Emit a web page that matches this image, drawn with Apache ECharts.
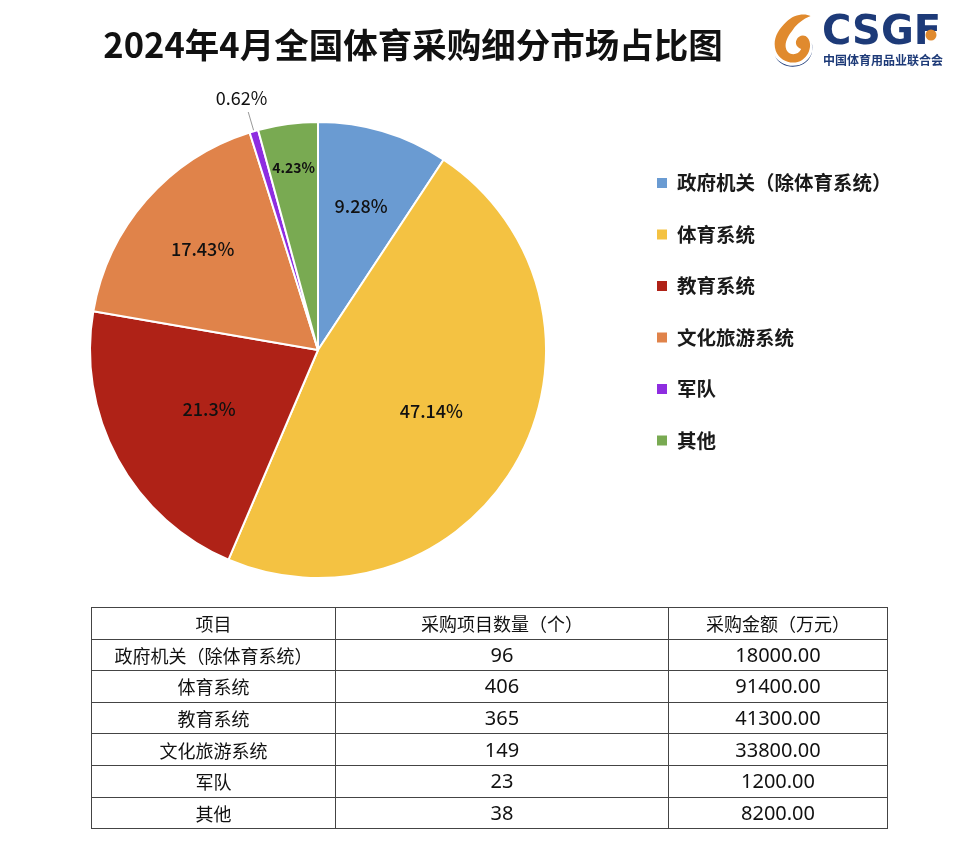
<!DOCTYPE html>
<html>
<head>
<meta charset="utf-8">
<script src="https://cdn.jsdelivr.net/npm/echarts@6/dist/echarts.min.js"></script>
<style>
  html, body { margin: 0; padding: 0; background: #fff; }
  #wrap { position: relative; width: 975px; height: 853px; }
  #chart { position: absolute; left: 0; top: 0; width: 975px; height: 853px; }
  #tbl { position: absolute; left: 91px; top: 607px; width: 796px; border-collapse: collapse; table-layout: fixed;
         font-family: "Noto Sans CJK SC", "Noto Sans", sans-serif; font-size: 18px; color: #111; }
  #tbl td { border: 1px solid #444; text-align: center; font-weight: 400; padding: 0; height: 30.6px; line-height: 30px; white-space: nowrap; overflow: hidden; }
  #tbl td.num { font-family: "Noto Sans", "Open Sans", sans-serif; font-size: 20px; }
</style>
</head>
<body>
<div id="wrap">
  <div id="chart"></div>
  <table id="tbl"></table>
</div>
<script>
// ---- data ----
const titleText = '2024年4月全国体育采购细分市场占比图';
const categories = ['政府机关（除体育系统）', '体育系统', '教育系统', '文化旅游系统', '军队', '其他'];
const projectCounts = [96, 406, 365, 149, 23, 38];
const amounts = [18000, 91400, 41300, 33800, 1200, 8200];
const percentLabels = ['9.28%', '47.14%', '21.3%', '17.43%', '0.62%', '4.23%'];
const tableHeader = ['项目', '采购项目数量（个）', '采购金额（万元）'];
const colors = ['#6A9BD2', '#F4C242', '#AF2217', '#E0834A', '#8E2DE0', '#79AA52'];

// ---- table ----
const tbl = document.getElementById('tbl');
let html = '<colgroup><col style="width:244px"><col style="width:333px"><col style="width:219px"></colgroup>';
html += '<tr>' + tableHeader.map(h => '<td>' + h + '</td>').join('') + '</tr>';
categories.forEach((c, i) => {
  html += '<tr><td>' + c + '</td><td class="num">' + projectCounts[i] + '</td><td class="num">' + amounts[i].toFixed(2) + '</td></tr>';
});
tbl.innerHTML = html;

// ---- logo swirl (decorative image) ----
const swirlSvg = '<svg xmlns="http://www.w3.org/2000/svg" width="50" height="56" viewBox="0 0 50 56">' +
  '<path d="M14 10 C22 2 34 1 40 4 C32 7 25 12 21 18 C15 25 11 33 15 39 C19 44 27 43 30 37 C26 36 23 32 25 28 C27 23 34 22 37 26 C42 32 39 43 31 48 C21 54 7 49 3 39 C-1 28 5 18 14 10 Z" fill="#E08A2E"/>' +
  '<path d="M2 44 C8 54 24 57 34 50 C41 45 44 37 41 31 C44 39 40 49 30 53 C20 57 7 54 2 44 Z" fill="#1D3A78"/>' +
  '</svg>';
const swirlUrl = 'data:image/svg+xml;charset=utf-8,' + encodeURIComponent(swirlSvg);

// ---- chart ----
const chart = echarts.init(document.getElementById('chart'), null, { renderer: 'canvas' });
const CX = 318, CY = 350, R = 228;
const labelScale = [1.28, 1.10, 1.06, 1.31, 1, 1.57];
const font = '"Noto Sans CJK SC", "Noto Sans", sans-serif';

const pieData = categories.map((c, i) => {
  const d = { name: c, value: amounts[i], itemStyle: { color: colors[i] } };
  if (i === 4) {
    d.label = { position: 'outside', fontWeight: 400, fontSize: 18, color: '#111' };
    d.labelLine = { show: true, length: 20, length2: 0, lineStyle: { color: '#999', width: 1 } };
  }
  if (i === 5) {
    d.label = { fontWeight: 'bold', fontSize: 14 };
  }
  return d;
});

chart.setOption({
  animation: false,
  backgroundColor: '#fff',
  color: colors,
  legend: {
    orient: 'vertical',
    left: 655,
    top: 173,
    padding: 0,
    itemWidth: 12,
    itemHeight: 12,
    itemGap: 31.5,
    icon: 'rect',
    data: categories,
    textStyle: { fontFamily: font, fontSize: 19.5, fontWeight: 'bold', color: '#1a1a1a', lineHeight: 20, padding: [0, 0, 0, 4] }
  },
  graphic: [
    { type: 'text', style: { text: titleText, x: 413, y: 45, textAlign: 'center', textVerticalAlign: 'middle',
      font: 'bold 34.5px ' + font, fill: '#111' } },
    { type: 'image', style: { image: swirlUrl, x: 773, y: 12, width: 47, height: 56 } },
    { type: 'text', style: { text: 'CSGF', x: 822, y: 34, textVerticalAlign: 'middle', font: 'bold 40px "DejaVu Sans", sans-serif', fill: '#1D3A78' } },
    { type: 'circle', shape: { cx: 931, cy: 35, r: 5.5 }, style: { fill: '#E08A2E' } },
    { type: 'text', style: { text: '中国体育用品业联合会', x: 823, y: 60, textVerticalAlign: 'middle', font: 'bold 12px ' + font, fill: '#1D3A78' } }
  ],
  series: [{
    type: 'pie',
    center: [CX, CY],
    radius: [0, R],
    startAngle: 90,
    clockwise: true,
    avoidLabelOverlap: false,
    itemStyle: { borderColor: '#fff', borderWidth: 2 },
    label: {
      show: true,
      position: 'inside',
      fontFamily: font,
      fontSize: 18,
      fontWeight: 500,
      color: '#111',
      formatter: p => percentLabels[p.dataIndex]
    },
    labelLine: { show: false },
    labelLayout: function (p) {
      const i = p.dataIndex;
      const r = p.labelRect;
      const lx = r.x + r.width / 2, ly = r.y + r.height / 2;
      if (i === 4) {
        return { dx: 24, dy: -14 };
      }
      const k = labelScale[i];
      return { dx: (lx - CX) * (k - 1), dy: (ly - CY) * (k - 1) };
    },
    data: pieData
  }]
});
</script>
</body>
</html>
